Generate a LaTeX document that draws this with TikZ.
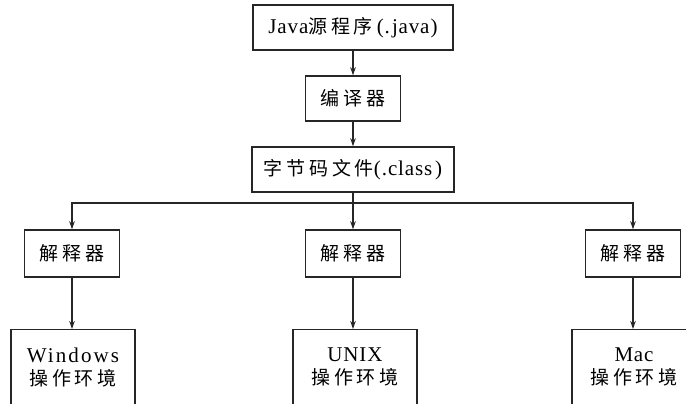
\documentclass[tikz,border=0pt]{standalone}
\usepackage{fontspec}
\setmainfont{Liberation Serif}[LetterSpace=4]
\newfontfamily\cjk{Noto Sans CJK SC}[LetterSpace=20]
\newcommand{\zh}[1]{{\fontsize{19}{22}\selectfont\cjk #1}}
\usetikzlibrary{arrows.meta}
\begin{document}
\begin{tikzpicture}[x=1pt,y=-1pt,
  box/.style={draw=black!85,line width=1.4pt,minimum height=45pt,inner sep=0pt,font=\fontsize{21}{24}\selectfont},
  ibox/.style={box,minimum width=95pt,minimum height=47pt},
  bbox/.style={draw=black!85,line width=1.4pt,minimum width=124pt,minimum height=90pt,anchor=north,inner sep=0pt},
  btext/.style={align=center,font=\fontsize{21}{23}\selectfont,anchor=north,inner sep=0pt},
  arr/.style={draw=black!85,line width=1.2pt,-{Stealth[length=8pt,width=5.5pt]}}]
\useasboundingbox (0,0) rectangle (686,404);
\clip (0,0) rectangle (686,404);
\node[box,minimum width=200pt] (src) at (353,27.5) {Java\zh{源程序}\kern4pt(.\kern2pt java\kern1pt)};
\node[box,minimum width=95pt] (cmp) at (353,98.5) {\zh{编译器}};
\node[box,minimum width=202pt] (bc) at (353,169.5) {\zh{字节码文件}(.\kern1pt class\kern3pt)};
\node[ibox] (i1) at (72,253.5) {\zh{解释器}};
\node[ibox] (i2) at (353,253.5) {\zh{解释器}};
\node[ibox] (i3) at (633,253.5) {\zh{解释器}};
\node[bbox] (b1) at (73,329) {};
\node[bbox] (b2) at (355,329) {};
\node[bbox] (b3) at (634,329) {};
\node[btext] (t1) at ([yshift=-19pt]b1.north) {{\addfontfeature{LetterSpace=10}Windows}\\\zh{操作环境}};
\node[btext] (t2) at ([yshift=-19pt]b2.north) {UNIX\\\zh{操作环境}};
\node[btext] (t3) at ([yshift=-19pt]b3.north) {Mac\\\zh{操作环境}};
\coordinate (split) at (353,203);
\draw[arr] (src) -- (cmp);
\draw[arr] (cmp) -- (bc);
\draw[arr] (bc.south) -- (i2.north);
\draw[arr] (split) -| (i1.north);
\draw[arr] (split) -| (i3.north);
\draw[arr] (i1) -- (i1.south |- b1.north);
\draw[arr] (i2) -- (i2.south |- b2.north);
\draw[arr] (i3) -- (i3.south |- b3.north);
\end{tikzpicture}
\end{document}
